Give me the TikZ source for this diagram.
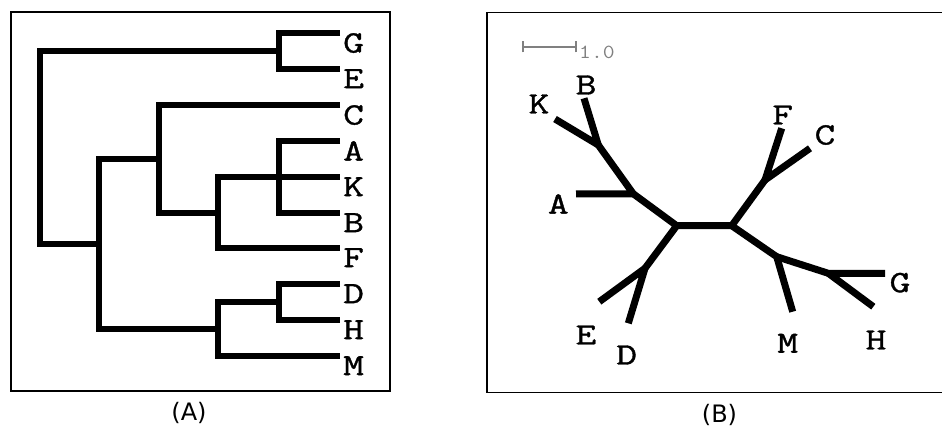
\documentclass[tikz,border=0pt]{standalone}
\usepackage{fontspec}
\newfontfamily\leaffont[FakeStretch=1.3,FakeBold=1.2]{Latin Modern Mono}
\newfontfamily\scalefont[FakeStretch=1.15]{Latin Modern Mono}
\newfontfamily\capfont{DejaVu Sans}
\begin{document}
\begin{tikzpicture}[x=1pt,y=-1pt,
  frame/.style={line width=1.6pt, draw=black},
  branchL/.style={line width=5.5pt, line cap=butt, line join=miter},
  branchR/.style={line width=7pt, line cap=butt, line join=round},
  leafL/.style={anchor=north west, inner sep=0pt, font=\leaffont\fontsize{31}{31}\selectfont},
  leafR/.style={inner sep=0pt, font=\leaffont\fontsize{31}{31}\selectfont},
  caption/.style={inner sep=0pt, font=\capfont\fontsize{24}{24}\selectfont},
  scalebar/.style={draw=gray, line width=1.2pt},
  scaletext/.style={anchor=west, inner sep=0pt, text=gray, font=\scalefont\fontsize{20}{20}\selectfont}
  ]
\useasboundingbox (0,0) rectangle (942,430);
\fill[white] (0,0) rectangle (942,430);

% ---------------- panel A ----------------
\draw[frame] (11,12) rectangle (390,391);

\foreach \n/\y in {G/33,E/69,C/105,A/141,K/177,B/213,F/248,D/284,H/320,M/356}{
  \coordinate (t\n) at (340,\y);
  \node[leafL] (l\n) at (343,\y) {\n};
}
\coordinate (nGE) at (279,51);
\coordinate (nAKB) at (279,177);
\coordinate (nAKBF) at (218,213);
\coordinate (nCg) at (159,159);
\coordinate (nDH) at (279,302);
\coordinate (nDHM) at (218,329);
\coordinate (nX) at (99,244);
\coordinate (root) at (40,147.5);

\draw[branchL] (tG) -| (nGE) |- (tE);
\draw[branchL] (tA) -| (nAKB) |- (tB);
\draw[branchL] (nAKB) -- (tK);
\draw[branchL] (nAKB) -| (nAKBF) |- (tF);
\draw[branchL] (tC) -| (nCg) |- (nAKBF);
\draw[branchL] (tD) -| (nDH) |- (tH);
\draw[branchL] (nDH) -| (nDHM) |- (tM);
\draw[branchL] (nCg) -| (nX) |- (nDHM);
\draw[branchL] (nGE) -| (root) |- (nX);

\node[caption] (capA) at (189,413) {(A)};

% ---------------- panel B ----------------
\draw[frame] (942,12.5) -- (487,12.5) -- (487,392.5) -- (942,392.5);

\coordinate (sb1) at (523,47);
\coordinate (sb2) at (576,47);
\draw[scalebar] (sb1) -- (sb2);
\draw[scalebar] ([yshift=-5.5pt]sb1) -- ([yshift=5.5pt]sb1);
\draw[scalebar] ([yshift=-5.5pt]sb2) -- ([yshift=5.5pt]sb2);
\node[scaletext] (sbt) at (579,52) {1.0};

\coordinate (cL) at (676.7,225.7);
\coordinate (cR) at (731.7,225.7);
\coordinate (nA) at (633.3,193.8);
\coordinate (nKB) at (598.3,145);
\coordinate (nDE) at (645,268.3);
\coordinate (nFC) at (765,180);
\coordinate (nM) at (776.7,256.7);
\coordinate (nGH) at (828.3,273.3);

\coordinate (rA) at (576,194);
\coordinate (rK) at (555,119);
\coordinate (rB) at (584,98.3);
\coordinate (rE) at (599.3,301.7);
\coordinate (rD) at (628.3,323.3);
\coordinate (rF) at (781.7,128.3);
\coordinate (rC) at (810,148.3);
\coordinate (rM) at (792.7,311.7);
\coordinate (rG) at (885,273.3);
\coordinate (rH) at (873.3,306.7);

\draw[branchR] (rK) -- (nKB) -- (rB);
\draw[branchR] (nKB) -- (nA) -- (rA);
\draw[branchR] (nA) -- (cL) -- (nDE);
\draw[branchR] (rE) -- (nDE) -- (rD);
\draw[branchR] (cL) -- (cR) -- (nFC);
\draw[branchR] (rF) -- (nFC) -- (rC);
\draw[branchR] (cR) -- (nM) -- (rM);
\draw[branchR] (nM) -- (nGH) -- (rG);
\draw[branchR] (nGH) -- (rH);

\node[leafR] (mK) at (539,104) {K};
\node[leafR] (mB) at (586,85) {B};
\node[leafR] (mA) at (558.3,204) {A};
\node[leafR] (mE) at (586,335) {E};
\node[leafR] (mD) at (626.7,355) {D};
\node[leafR] (mF) at (782.7,115) {F};
\node[leafR] (mC) at (825,135) {C};
\node[leafR] (mG) at (900,282.7) {G};
\node[leafR] (mM) at (787.7,343.3) {M};
\node[leafR] (mH) at (876,340) {H};

\node[caption] (capB) at (719.5,415) {(B)};
\end{tikzpicture}
\end{document}
